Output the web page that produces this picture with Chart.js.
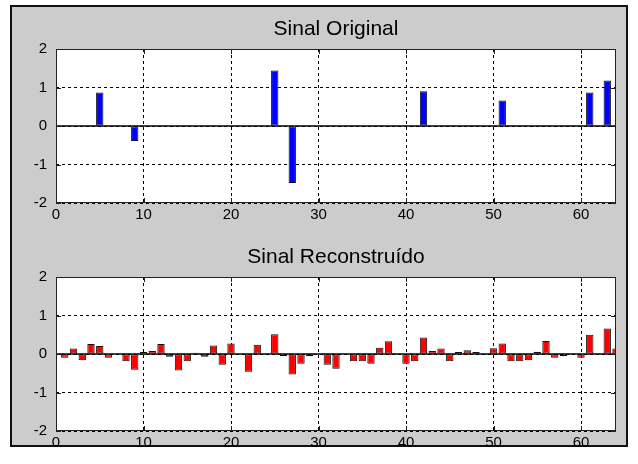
<!DOCTYPE html>
<html>
<head>
<meta charset="utf-8">
<script src="https://cdn.jsdelivr.net/npm/chart.js@4"></script>
<style>
  body { margin: 0; background: #fff; }
  #fig { position: absolute; left: 10px; top: 5px; width: 618px; height: 442px; box-sizing: border-box; border: 2px solid #111; background: #cccccc; }
  canvas { position: absolute; left: 0; }
</style>
</head>
<body>
<div id="fig"></div>
<canvas id="topChart" width="638" height="228" style="top:0"></canvas>
<canvas id="bottomChart" width="638" height="228" style="top:228px"></canvas>
<script>
// sample index 1..64
const samples = Array.from({ length: 64 }, (_, i) => i + 1);

// original sparse signal
const original = [
    0, 0, 0, 0, 0.87, 0, 0, 0, -0.39, 0,
    0, 0, 0, 0, 0, 0, 0, 0, 0, 0,
    0, 0, 0, 0, 1.44, 0, -1.48, 0, 0, 0,
    0, 0, 0, 0, 0, 0, 0, 0, 0, 0,
    0, 0.90, 0, 0, 0, 0, 0, 0, 0, 0,
    0.66, 0, 0, 0, 0, 0, 0, 0, 0, 0,
    0.87, 0, 1.18, 0
];

// reconstructed signal
const reconstructed = [
    -0.10, 0.14, -0.16, 0.26, 0.21, -0.10, 0.00, -0.19, -0.41, 0.05,
    0.08, 0.26, -0.07, -0.43, -0.19, 0.03, -0.07, 0.22, -0.28, 0.27,
    0.00, -0.46, 0.24, -0.02, 0.51, -0.06, -0.53, -0.25, -0.06, -0.02,
    -0.28, -0.38, 0.00, -0.19, -0.19, -0.25, 0.16, 0.33, 0.02, -0.25,
    -0.19, 0.43, 0.08, 0.14, -0.19, 0.05, 0.10, 0.05, -0.02, 0.15,
    0.27, -0.19, -0.19, -0.16, 0.06, 0.34, -0.10, -0.06, 0.02, -0.10,
    0.50, 0.02, 0.66, 0.14
];

const xTicks = [0, 10, 20, 30, 40, 50, 60];
const yTicks = [-2, -1, 0, 1, 2];

const tickFont = { family: "'Liberation Sans', Arial, sans-serif", size: 15 };

// white axes background, inward ticks and the box around it
const axesBox = {
    id: 'axesBox',
    beforeDraw(chart) {
        let a = chart.chartArea;
        let ctx = chart.ctx;
        ctx.save();
        ctx.fillStyle = '#fff';
        ctx.fillRect(a.left, a.top, a.right - a.left, a.bottom - a.top);
        ctx.restore();
    },
    afterDraw(chart) {
        let a = chart.chartArea;
        let ctx = chart.ctx;
        let x = chart.scales.x, y = chart.scales.y;
        ctx.save();
        ctx.strokeStyle = '#222';
        ctx.lineWidth = 1;
        ctx.beginPath();
        xTicks.forEach(v => {
            let px = Math.round(x.getPixelForValue(v)) + 0.5;
            ctx.moveTo(px, a.bottom); ctx.lineTo(px, a.bottom - 5);
            ctx.moveTo(px, a.top); ctx.lineTo(px, a.top + 5);
        });
        yTicks.forEach(v => {
            let py = Math.round(y.getPixelForValue(v)) + 0.5;
            ctx.moveTo(a.left, py); ctx.lineTo(a.left + 5, py);
            ctx.moveTo(a.right, py); ctx.lineTo(a.right - 5, py);
        });
        ctx.stroke();
        ctx.strokeRect(Math.round(a.left) + 0.5, Math.round(a.top) + 0.5, Math.round(a.right - a.left) - 1, Math.round(a.bottom - a.top) - 1);
        ctx.restore();
    }
};

function makeChart(id, title, values, color) {
    let ctx = document.getElementById(id);
    return new Chart(ctx, {
        type: 'bar',
        data: {
            datasets: [
                {
                    type: 'line',
                    data: [{ x: 0, y: 0 }, { x: 64, y: 0 }],
                    borderColor: '#000',
                    borderWidth: 1.6,
                    pointRadius: 0,
                    order: 0
                },
                {
                    data: samples.map((s, i) => ({ x: s, y: values[i] })),
                    backgroundColor: color,
                    borderColor: '#111',
                    borderWidth: 1,
                    borderSkipped: false,
                    barPercentage: 0.84,
                    categoryPercentage: 1,
                    order: 1
                }
            ]
        },
        options: {
            responsive: false,
            animation: false,
            layout: { padding: { left: 0, right: 22, top: 0, bottom: 0 } },
            plugins: {
                legend: { display: false },
                tooltip: { enabled: false },
                title: {
                    display: true,
                    fullSize: false,
                    text: title,
                    color: '#000',
                    font: { family: "'Liberation Sans', Arial, sans-serif", size: 21, weight: 'normal', lineHeight: 1.2 },
                    padding: { top: 16.4, bottom: 7.4 }
                }
            },
            scales: {
                x: {
                    type: 'linear',
                    min: 0,
                    max: 64,
                    offset: false,
                    afterFit: s => { s.height = 25; },
                    afterBuildTicks: s => { s.ticks = xTicks.map(v => ({ value: v })); },
                    grid: { color: '#000', lineWidth: 1, drawTicks: false, offset: false },
                    border: { display: false, dash: [3, 3] },
                    ticks: { color: '#000', font: tickFont, padding: 3, maxRotation: 0 }
                },
                y: {
                    min: -2,
                    max: 2,
                    afterFit: s => { s.width = 56; },
                    afterBuildTicks: s => { s.ticks = yTicks.map(v => ({ value: v })); },
                    grid: { color: '#000', lineWidth: 1, drawTicks: false },
                    border: { display: false, dash: [3, 3] },
                    ticks: { color: '#000', font: tickFont, padding: 9 }
                }
            }
        },
        plugins: [axesBox]
    });
}

makeChart('topChart', 'Sinal Original', original, '#0000ff');
makeChart('bottomChart', 'Sinal Reconstruído', reconstructed, '#ff0000');
</script>
</body>
</html>
